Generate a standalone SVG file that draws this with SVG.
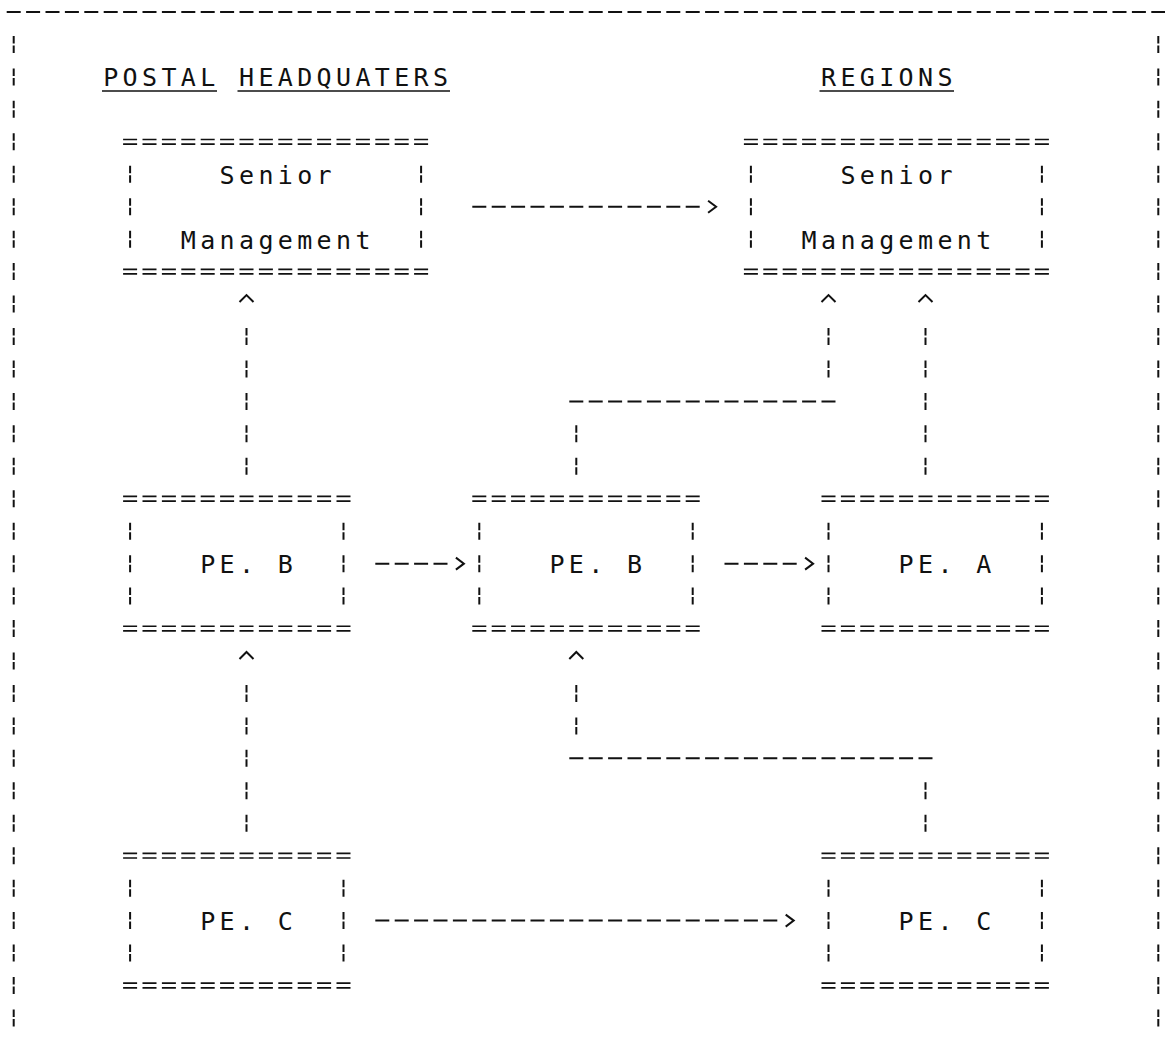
<svg xmlns="http://www.w3.org/2000/svg" xmlns:xlink="http://www.w3.org/1999/xlink" width="1165" height="1044" viewBox="0 0 1165 1044">
<style>
.h{stroke:#111;stroke-width:2;stroke-dasharray:14 5.4;fill:none}
.d{stroke:#111;stroke-width:1.7;stroke-dasharray:14 5.4;fill:none}
.v{stroke:#111;stroke-width:2;stroke-dasharray:7.5 2 7.5 15.45;fill:none}
.ah{fill:none;stroke:#111;stroke-width:2}
.ul{stroke:#111;stroke-width:1.6}
text{font-family:"DejaVu Sans Mono","Liberation Mono",monospace;font-size:25px;letter-spacing:4.35px;fill:#111}
</style>
<defs>
<polyline id="caret" class="ah" points="-7,-2 0,-9 7,-2"/>
<polyline id="gt" class="ah" points="-4,-6 4,0 -4,6"/>
</defs>
<rect width="1165" height="1044" fill="#fff"/>

<g id="frame">
<line class="h" x1="6.7" y1="12" x2="1165.3" y2="12"/>
<line class="v" x1="13.7" y1="35.95" x2="13.7" y2="1026.45"/>
<line class="v" x1="1158.3" y1="35.95" x2="1158.3" y2="1026.45"/>
</g>

<g id="titles">
<text x="103.2" y="86.4">POSTAL</text>
<text x="239" y="86.4">HEADQUATERS</text>
<text x="821" y="86.4">REGIONS</text>
<line class="ul" x1="102" y1="91" x2="217" y2="91"/>
<line class="ul" x1="237.5" y1="91" x2="450" y2="91"/>
<line class="ul" x1="819.5" y1="91" x2="954" y2="91"/>
</g>

<g id="hq-senior-management">
<line class="d" x1="123.1" y1="139.5" x2="428.1" y2="139.5"/>
<line class="d" x1="123.1" y1="144.1" x2="428.1" y2="144.1"/>
<line class="d" x1="123.1" y1="269.3" x2="428.1" y2="269.3"/>
<line class="d" x1="123.1" y1="273.9" x2="428.1" y2="273.9"/>
<line class="v" x1="130.1" y1="165.75" x2="130.1" y2="247.65"/>
<line class="v" x1="421.1" y1="165.75" x2="421.1" y2="247.65"/>
<text x="219.6" y="183.75">Senior</text>
<text x="180.8" y="248.65">Management</text>
</g>

<g id="regions-senior-management">
<line class="d" x1="743.9" y1="139.5" x2="1048.9" y2="139.5"/>
<line class="d" x1="743.9" y1="144.1" x2="1048.9" y2="144.1"/>
<line class="d" x1="743.9" y1="269.3" x2="1048.9" y2="269.3"/>
<line class="d" x1="743.9" y1="273.9" x2="1048.9" y2="273.9"/>
<line class="v" x1="750.9" y1="165.75" x2="750.9" y2="247.65"/>
<line class="v" x1="1041.9" y1="165.75" x2="1041.9" y2="247.65"/>
<text x="840.4" y="183.75">Senior</text>
<text x="801.6" y="248.65">Management</text>
</g>

<g id="hq-pe-b">
<line class="d" x1="123.1" y1="496.45" x2="350.5" y2="496.45"/>
<line class="d" x1="123.1" y1="501.05" x2="350.5" y2="501.05"/>
<line class="d" x1="123.1" y1="626.25" x2="350.5" y2="626.25"/>
<line class="d" x1="123.1" y1="630.85" x2="350.5" y2="630.85"/>
<line class="v" x1="130.1" y1="522.7" x2="130.1" y2="604.6"/>
<line class="v" x1="343.5" y1="522.7" x2="343.5" y2="604.6"/>
<text x="200.2" y="573.15">PE. B</text>
</g>

<g id="regions-pe-b">
<line class="d" x1="472.3" y1="496.45" x2="699.7" y2="496.45"/>
<line class="d" x1="472.3" y1="501.05" x2="699.7" y2="501.05"/>
<line class="d" x1="472.3" y1="626.25" x2="699.7" y2="626.25"/>
<line class="d" x1="472.3" y1="630.85" x2="699.7" y2="630.85"/>
<line class="v" x1="479.3" y1="522.7" x2="479.3" y2="604.6"/>
<line class="v" x1="692.7" y1="522.7" x2="692.7" y2="604.6"/>
<text x="549.4" y="573.15">PE. B</text>
</g>

<g id="regions-pe-a">
<line class="d" x1="821.5" y1="496.45" x2="1048.9" y2="496.45"/>
<line class="d" x1="821.5" y1="501.05" x2="1048.9" y2="501.05"/>
<line class="d" x1="821.5" y1="626.25" x2="1048.9" y2="626.25"/>
<line class="d" x1="821.5" y1="630.85" x2="1048.9" y2="630.85"/>
<line class="v" x1="828.5" y1="522.7" x2="828.5" y2="604.6"/>
<line class="v" x1="1041.9" y1="522.7" x2="1041.9" y2="604.6"/>
<text x="898.6" y="573.15">PE. A</text>
</g>

<g id="hq-pe-c">
<line class="d" x1="123.1" y1="853.4" x2="350.5" y2="853.4"/>
<line class="d" x1="123.1" y1="858" x2="350.5" y2="858"/>
<line class="d" x1="123.1" y1="983.2" x2="350.5" y2="983.2"/>
<line class="d" x1="123.1" y1="987.8" x2="350.5" y2="987.8"/>
<line class="v" x1="130.1" y1="879.65" x2="130.1" y2="961.55"/>
<line class="v" x1="343.5" y1="879.65" x2="343.5" y2="961.55"/>
<text x="200.2" y="930.1">PE. C</text>
</g>

<g id="regions-pe-c">
<line class="d" x1="821.5" y1="853.4" x2="1048.9" y2="853.4"/>
<line class="d" x1="821.5" y1="858" x2="1048.9" y2="858"/>
<line class="d" x1="821.5" y1="983.2" x2="1048.9" y2="983.2"/>
<line class="d" x1="821.5" y1="987.8" x2="1048.9" y2="987.8"/>
<line class="v" x1="828.5" y1="879.65" x2="828.5" y2="961.55"/>
<line class="v" x1="1041.9" y1="879.65" x2="1041.9" y2="961.55"/>
<text x="898.6" y="930.1">PE. C</text>
</g>

<g id="connectors">
<!-- HQ senior -> Regions senior -->
<line class="h" x1="472.3" y1="206.7" x2="699.7" y2="206.7"/>
<use xlink:href="#gt" x="712.1" y="206.7"/>
<!-- HQ PE.B -> HQ senior -->
<use xlink:href="#caret" x="246.5" y="304.05"/>
<line class="v" x1="246.5" y1="328" x2="246.5" y2="474.8"/>
<!-- Regions PE.B -> Regions senior -->
<line class="v" x1="576.3" y1="425.35" x2="576.3" y2="474.8"/>
<line class="h" x1="569.3" y1="401.4" x2="835.5" y2="401.4"/>
<line class="v" x1="828.5" y1="328" x2="828.5" y2="377.45"/>
<use xlink:href="#caret" x="828.5" y="304.05"/>
<!-- PE.A -> Regions senior -->
<line class="v" x1="925.5" y1="328" x2="925.5" y2="474.8"/>
<use xlink:href="#caret" x="925.5" y="304.05"/>
<!-- HQ PE.B -> Regions PE.B -->
<line class="h" x1="375.3" y1="563.65" x2="447.5" y2="563.65"/>
<use xlink:href="#gt" x="459.9" y="563.65"/>
<!-- Regions PE.B -> PE.A -->
<line class="h" x1="724.5" y1="563.65" x2="796.7" y2="563.65"/>
<use xlink:href="#gt" x="809.1" y="563.65"/>
<!-- HQ PE.C -> HQ PE.B -->
<use xlink:href="#caret" x="246.5" y="661"/>
<line class="v" x1="246.5" y1="684.95" x2="246.5" y2="831.75"/>
<!-- Regions PE.C -> Regions PE.B -->
<line class="v" x1="925.5" y1="782.3" x2="925.5" y2="831.75"/>
<line class="h" x1="569.3" y1="758.35" x2="932.5" y2="758.35"/>
<line class="v" x1="576.3" y1="684.95" x2="576.3" y2="734.4"/>
<use xlink:href="#caret" x="576.3" y="661"/>
<!-- HQ PE.C -> Regions PE.C -->
<line class="h" x1="375.3" y1="920.6" x2="777.3" y2="920.6"/>
<use xlink:href="#gt" x="789.7" y="920.6"/>
</g>
</svg>
